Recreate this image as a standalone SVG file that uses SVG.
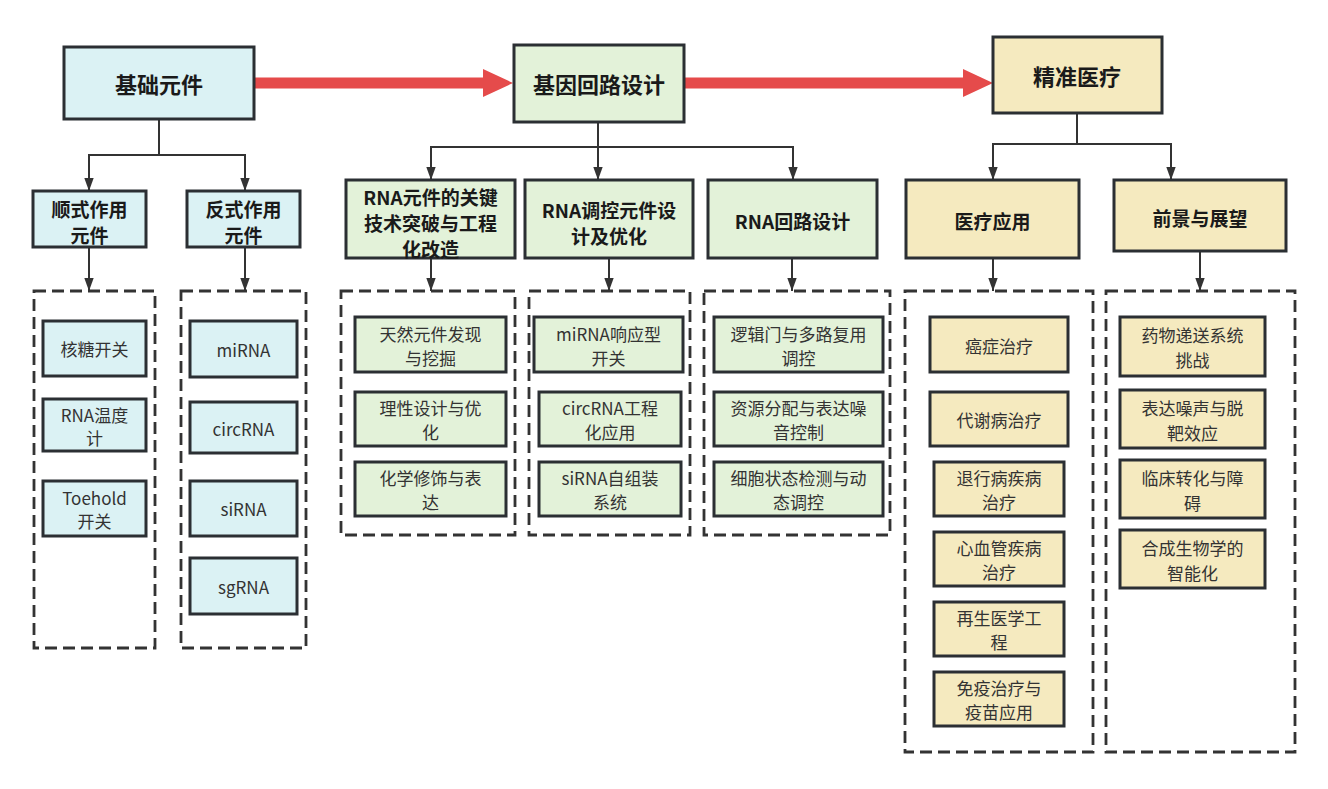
<svg xmlns="http://www.w3.org/2000/svg" width="1328" height="789" viewBox="0 0 1328 789">
<defs>
<marker id="ah" markerUnits="userSpaceOnUse" markerWidth="13" markerHeight="18" refX="18" refY="6.5" orient="auto" viewBox="0 0 18 13">
<path d="M0,0 L18,6.5 L0,13 z" fill="#333"/>
</marker>
</defs>
<style>
text{font-family:"Noto Sans CJK SC","Noto Sans",sans-serif;text-anchor:middle;dominant-baseline:central;fill:#333}
.top{font-size:22px;font-weight:bold;fill:#1a1a1a}
.hd{font-size:19px;font-weight:bold;fill:#1a1a1a}
.it{font-size:17px}
.box{stroke:#2b2f33;stroke-width:3}
.cy{fill:#dbf2f4}
.gr{fill:#e3f2d9}
.ye{fill:#f5eabf}
.dash{fill:none;stroke:#333;stroke-width:2.8;stroke-dasharray:12 6}
.ln{fill:none;stroke:#333;stroke-width:2}
.red{fill:#e54b4b}
</style>
<g id="connectors">
<path class="red" d="M254,77.5 H483 V69 L513,83 L483,97 V88.5 H254 z"/>
<path class="red" d="M684,77.5 H963 V69 L993,83 L963,97 V88.5 H684 z"/>
<path class="ln" d="M159,119 V155 H89 V191" marker-end="url(#ah)"/>
<path class="ln" d="M159,155 H245 V191" marker-end="url(#ah)"/>
<path class="ln" d="M89,247 V291" marker-end="url(#ah)"/>
<path class="ln" d="M245,247 V291" marker-end="url(#ah)"/>
<path class="ln" d="M598,122 V180" marker-end="url(#ah)"/>
<path class="ln" d="M598,147 H431 V180" marker-end="url(#ah)"/>
<path class="ln" d="M598,147 H793 V180" marker-end="url(#ah)"/>
<path class="ln" d="M431,258 V291" marker-end="url(#ah)"/>
<path class="ln" d="M609,258 V291" marker-end="url(#ah)"/>
<path class="ln" d="M792,258 V291" marker-end="url(#ah)"/>
<path class="ln" d="M1077,113 V144 H993 V180" marker-end="url(#ah)"/>
<path class="ln" d="M1077,144 H1171 V180" marker-end="url(#ah)"/>
<path class="ln" d="M993,258 V291" marker-end="url(#ah)"/>
<path class="ln" d="M1200,251 V291" marker-end="url(#ah)"/>
</g>
<g id="n-jichu"><rect class="box cy" x="64" y="47" width="190" height="72"/><text class="top" x="159" y="83">基础元件</text></g>
<g id="n-jiyin"><rect class="box gr" x="514" y="45" width="170" height="77"/><text class="top" x="599" y="83">基因回路设计</text></g>
<g id="n-jingzhun"><rect class="box ye" x="993" y="37" width="169" height="76"/><text class="top" x="1077" y="75">精准医疗</text></g>

<g id="n-shunshi"><rect class="box cy" x="33" y="191" width="113" height="56"/><text class="hd" x="89.5" y="208">顺式作用</text><text class="hd" x="89.5" y="234">元件</text></g>
<g id="n-fanshi"><rect class="box cy" x="187" y="191" width="113" height="56"/><text class="hd" x="243.5" y="208">反式作用</text><text class="hd" x="243.5" y="234">元件</text></g>
<g id="n-d1"><rect class="box gr" x="346" y="180" width="169" height="78"/><text class="hd" x="430.5" y="196">RNA元件的关键</text><text class="hd" x="430.5" y="222">技术突破与工程</text><text class="hd" x="430.5" y="248">化改造</text></g>
<g id="n-d2"><rect class="box gr" x="525" y="180" width="168" height="78"/><text class="hd" x="609" y="209">RNA调控元件设</text><text class="hd" x="609" y="235">计及优化</text></g>
<g id="n-d3"><rect class="box gr" x="708" y="180" width="169" height="78"/><text class="hd" x="792.5" y="220">RNA回路设计</text></g>
<g id="n-e1"><rect class="box ye" x="906" y="180" width="173" height="78"/><text class="hd" x="992.5" y="220">医疗应用</text></g>
<g id="n-e2"><rect class="box ye" x="1114" y="180" width="172" height="71"/><text class="hd" x="1200" y="217">前景与展望</text></g>

<g id="g-l1"><rect class="dash" x="34" y="291" width="121" height="357"/></g>
<g id="g-l2"><rect class="dash" x="181" y="291" width="125" height="357"/></g>
<g id="g-m1"><rect class="dash" x="341" y="291" width="174" height="244"/></g>
<g id="g-m2"><rect class="dash" x="529" y="291" width="161" height="244"/></g>
<g id="g-m3"><rect class="dash" x="704" y="291" width="186" height="244"/></g>
<g id="g-r1"><rect class="dash" x="905" y="291" width="188" height="461"/></g>
<g id="g-r2"><rect class="dash" x="1106" y="291" width="189" height="461"/></g>

<g id="i-hetang"><rect class="box cy" x="43" y="321" width="103" height="55"/><text class="it" x="94.5" y="348">核糖开关</text></g>
<g id="i-wendu"><rect class="box cy" x="43" y="399" width="103" height="52"/><text class="it" x="94.5" y="414">RNA温度</text><text class="it" x="94.5" y="437">计</text></g>
<g id="i-toehold"><rect class="box cy" x="43" y="481" width="103" height="55"/><text class="it" x="94.5" y="497">Toehold</text><text class="it" x="94.5" y="520">开关</text></g>

<g id="i-mirna"><rect class="box cy" x="190" y="321" width="107" height="56"/><text class="it" x="243.5" y="349">miRNA</text></g>
<g id="i-circrna"><rect class="box cy" x="190" y="402" width="107" height="51"/><text class="it" x="243.5" y="428">circRNA</text></g>
<g id="i-sirna"><rect class="box cy" x="190" y="481" width="107" height="55"/><text class="it" x="243.5" y="508">siRNA</text></g>
<g id="i-sgrna"><rect class="box cy" x="190" y="558" width="107" height="56"/><text class="it" x="243.5" y="586">sgRNA</text></g>

<g id="i-m1a"><rect class="box gr" x="355" y="317" width="151" height="55"/><text class="it" x="430.5" y="333">天然元件发现</text><text class="it" x="430.5" y="357">与挖掘</text></g>
<g id="i-m1b"><rect class="box gr" x="355" y="392" width="151" height="54"/><text class="it" x="430.5" y="407">理性设计与优</text><text class="it" x="430.5" y="431">化</text></g>
<g id="i-m1c"><rect class="box gr" x="355" y="462" width="151" height="54"/><text class="it" x="430.5" y="477">化学修饰与表</text><text class="it" x="430.5" y="501">达</text></g>

<g id="i-m2a"><rect class="box gr" x="534" y="317" width="149" height="55"/><text class="it" x="608.5" y="333">miRNA响应型</text><text class="it" x="608.5" y="357">开关</text></g>
<g id="i-m2b"><rect class="box gr" x="539" y="392" width="142" height="54"/><text class="it" x="610" y="407">circRNA工程</text><text class="it" x="610" y="431">化应用</text></g>
<g id="i-m2c"><rect class="box gr" x="539" y="462" width="142" height="54"/><text class="it" x="610" y="477">siRNA自组装</text><text class="it" x="610" y="501">系统</text></g>

<g id="i-m3a"><rect class="box gr" x="714" y="317" width="169" height="55"/><text class="it" x="798.5" y="333">逻辑门与多路复用</text><text class="it" x="798.5" y="357">调控</text></g>
<g id="i-m3b"><rect class="box gr" x="714" y="392" width="169" height="54"/><text class="it" x="798.5" y="407">资源分配与表达噪</text><text class="it" x="798.5" y="431">音控制</text></g>
<g id="i-m3c"><rect class="box gr" x="714" y="462" width="169" height="54"/><text class="it" x="798.5" y="477">细胞状态检测与动</text><text class="it" x="798.5" y="501">态调控</text></g>

<g id="i-r1a"><rect class="box ye" x="930" y="317" width="138" height="55"/><text class="it" x="999" y="345">癌症治疗</text></g>
<g id="i-r1b"><rect class="box ye" x="930" y="392" width="138" height="54"/><text class="it" x="999" y="419">代谢病治疗</text></g>
<g id="i-r1c"><rect class="box ye" x="934" y="462" width="130" height="54"/><text class="it" x="999" y="477">退行病疾病</text><text class="it" x="999" y="501">治疗</text></g>
<g id="i-r1d"><rect class="box ye" x="934" y="532" width="130" height="54"/><text class="it" x="999" y="547">心血管疾病</text><text class="it" x="999" y="571">治疗</text></g>
<g id="i-r1e"><rect class="box ye" x="934" y="602" width="130" height="54"/><text class="it" x="999" y="617">再生医学工</text><text class="it" x="999" y="641">程</text></g>
<g id="i-r1f"><rect class="box ye" x="934" y="672" width="130" height="54"/><text class="it" x="999" y="687">免疫治疗与</text><text class="it" x="999" y="711">疫苗应用</text></g>

<g id="i-r2a"><rect class="box ye" x="1120" y="317" width="145" height="59"/><text class="it" x="1192.5" y="334">药物递送系统</text><text class="it" x="1192.5" y="359">挑战</text></g>
<g id="i-r2b"><rect class="box ye" x="1120" y="390" width="145" height="58"/><text class="it" x="1192.5" y="407">表达噪声与脱</text><text class="it" x="1192.5" y="432">靶效应</text></g>
<g id="i-r2c"><rect class="box ye" x="1120" y="460" width="145" height="58"/><text class="it" x="1192.5" y="477">临床转化与障</text><text class="it" x="1192.5" y="502">碍</text></g>
<g id="i-r2d"><rect class="box ye" x="1120" y="530" width="145" height="58"/><text class="it" x="1192.5" y="547">合成生物学的</text><text class="it" x="1192.5" y="572">智能化</text></g>
</svg>
